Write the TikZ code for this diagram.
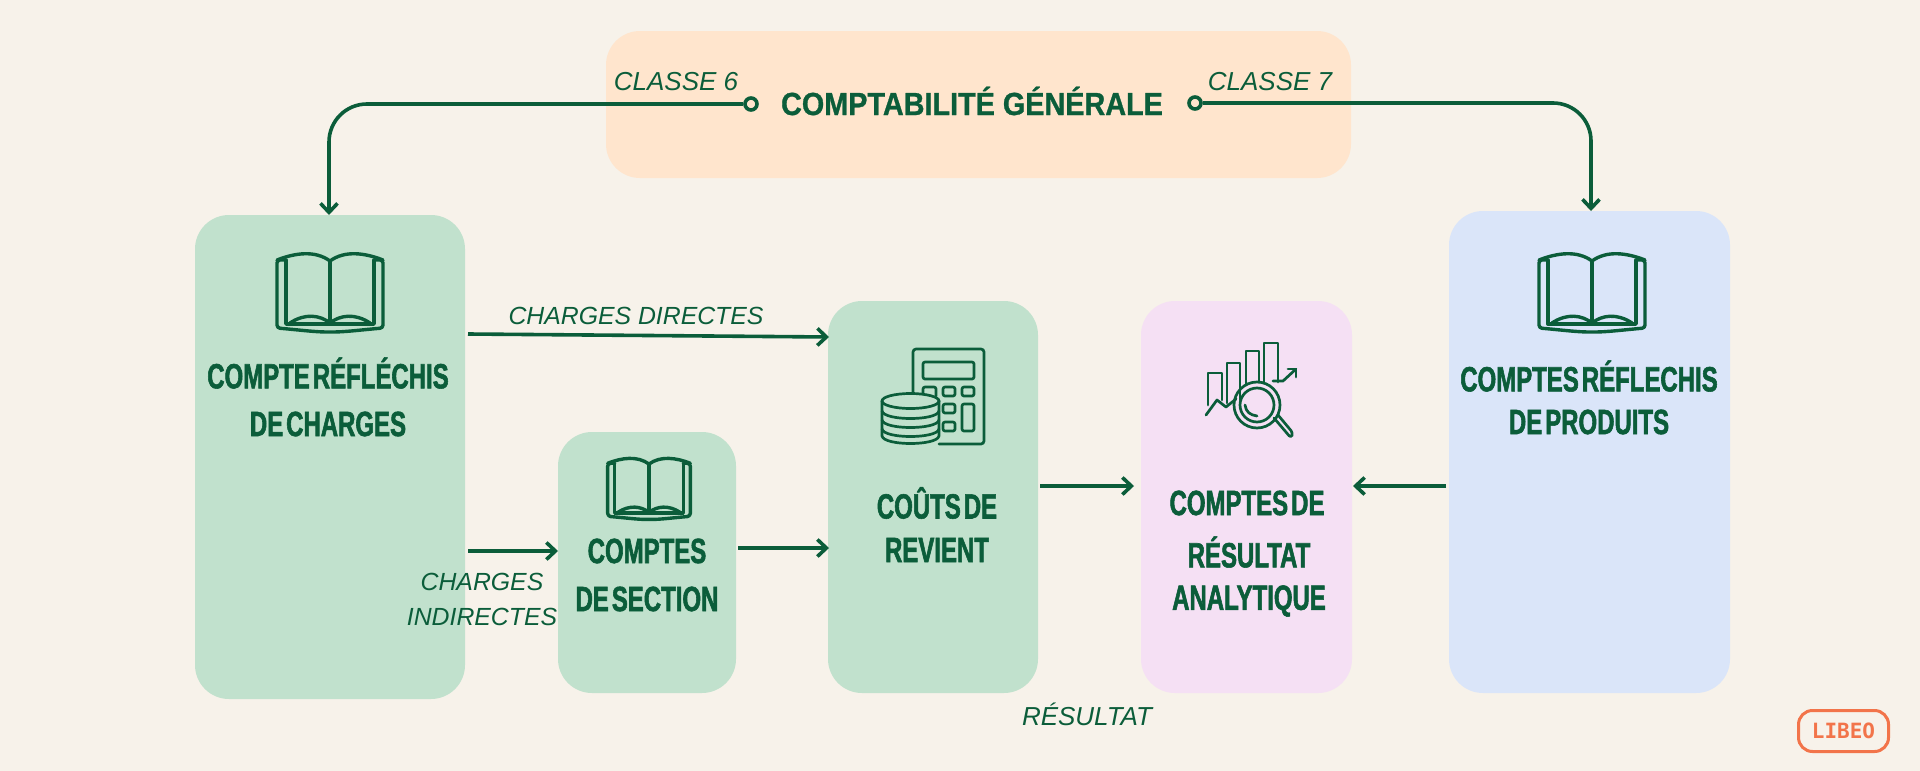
\documentclass[tikz,border=0pt]{standalone}
\usepackage{fontspec}
\setmainfont{Liberation Sans}
\newfontfamily\condfont[FakeStretch=0.685,FakeBold=1.6,WordSpace=0.45]{Liberation Sans Bold}
\newfontfamily\titlefont[FakeStretch=0.9,FakeBold=0.9]{Liberation Sans Bold}
\newfontfamily\labfont{Liberation Sans Italic}
\newfontfamily\logofont{DejaVu Sans Mono Bold}
\usetikzlibrary{arrows.meta}
\definecolor{bgc}{HTML}{F7F2EA}
\definecolor{dg}{HTML}{0B5D3A}
\definecolor{greenb}{HTML}{C1E1CD}
\definecolor{blueb}{HTML}{DAE5F9}
\definecolor{pinkb}{HTML}{F5E0F4}
\definecolor{orangeb}{HTML}{FFE5CD}
\definecolor{logoc}{HTML}{F2744A}
\tikzset{
  x=1pt,y=-1pt,
  boxshape/.style={rounded corners=34pt,draw=none},
  boxtext/.style={font=\condfont\fontsize{35}{35}\selectfont,text=dg,inner sep=0pt,anchor=center},
  lab/.style={font=\labfont\fontsize{24.8}{25}\selectfont,text=dg,inner sep=0pt,anchor=center},
  labbig/.style={font=\labfont\fontsize{26}{26}\selectfont,text=dg,inner sep=0pt,anchor=center},
  conn/.style={draw=dg,line width=3.6pt,-{Straight Barb[length=9pt,width=17pt,line width=3.6pt]}},
  icon/.style={draw=dg,line width=3.4pt,line join=round,line cap=round,fill=none},
  iconthin/.style={draw=dg,line width=2.7pt,line join=round,line cap=round,fill=none},
  dot/.style={circle,draw=dg,line width=3.6pt,minimum size=12pt,inner sep=0pt,fill=none},
}
\newcommand{\bookicon}[3]{%
\begin{scope}[shift={(#1,#2)},scale=#3]
 \draw[icon] (-53,-33) .. controls (-35,-40) and (-15,-43) .. (0,-32) .. controls (15,-43) and (35,-40) .. (53,-33);
 \draw[icon,rounded corners=3pt] (-44,-33) -- (-53,-33) -- (-53,35) .. controls (-30,37) and (-15,39) .. (0,39) .. controls (15,39) and (30,37) .. (53,35) -- (53,-33) -- (44,-33);
 \draw[icon] (0,-32) -- (0,30);
 \draw[icon] (-44,-33) -- (-44,31) -- (44,31) -- (44,-33);
 \draw[icon] (-40,30) .. controls (-25,20) and (-10,22) .. (0,30) .. controls (10,22) and (25,20) .. (40,30);
\end{scope}}
\begin{document}
\begin{tikzpicture}[x=1pt,y=-1pt]
\useasboundingbox (0,0) rectangle (1920,771);
\fill[bgc] (0,0) rectangle (1920,771);
% boxes
\fill[orangeb,boxshape] (606,31) rectangle (1351,178);
\fill[greenb,boxshape] (195,215) rectangle (465,699);
\fill[greenb,boxshape] (558,432) rectangle (736,693);
\fill[greenb,boxshape] (828,301) rectangle (1038,693);
\fill[pinkb,boxshape] (1141,301) rectangle (1352,693);
\fill[blueb,boxshape] (1449,211) rectangle (1730,693);
% anchors
\coordinate (chargesTop) at (329,215);
\coordinate (produitsTop) at (1591,211);
\coordinate (chargesR1) at (468,334);
\coordinate (coutsL1) at (829,337);
\coordinate (chargesR2) at (468,551);
\coordinate (sectionL) at (558,551);
\coordinate (sectionR) at (738,548);
\coordinate (coutsL2) at (829,548);
\coordinate (coutsR) at (1040,486);
\coordinate (resultL) at (1134,486);
\coordinate (produitsL) at (1446,486);
\coordinate (resultR) at (1353,486);
\node[dot] (dotL) at (751,104) {};
\node[dot] (dotR) at (1195,103) {};
% connectors
\draw[conn,rounded corners=38pt] (dotL.west) -- (329,104) -- (chargesTop);
\draw[conn,rounded corners=38pt] (dotR.east) -- (1591,103) -- (produitsTop);
\draw[conn] (chargesR1) -- (coutsL1);
\draw[conn] (chargesR2) -- (sectionL);
\draw[conn] (sectionR) -- (coutsL2);
\draw[conn] (coutsR) -- (resultL);
\draw[conn] (produitsL) -- (resultR);
% texts
\node[inner sep=0pt,text=dg,font=\titlefont\fontsize{32}{32}\selectfont] (titre) at (972,101) {COMPTABILITÉ GÉNÉRALE};
\node[labbig] (c6) at (676,82) {CLASSE 6};
\node[labbig] (c7) at (1270,82) {CLASSE 7};
\node[lab] (cd) at (636,316) {CHARGES DIRECTES};
\node[lab] (ci1) at (482,582) {CHARGES};
\node[lab] (ci2) at (482,617) {INDIRECTES};
\node[labbig] (res) at (1087,714) {RÉSULTAT};
\node[boxtext] (t1a) at (328,373) {COMPTE RÉFLÉCHIS};
\node[boxtext] (t1b) at (328,424) {DE CHARGES};
\node[boxtext] (t2a) at (647,551) {COMPTES};
\node[boxtext] (t2b) at (647,599) {DE SECTION};
\node[boxtext] (t3a) at (937,503) {COÛTS DE};
\node[boxtext] (t3b) at (937,550) {REVIENT};
\node[boxtext] (t4a) at (1247,503) {COMPTES DE};
\node[boxtext] (t4b) at (1249,552) {RÉSULTAT};
\node[boxtext] (t4c) at (1249,601) {ANALYTIQUE};
\node[boxtext] (t5a) at (1589,376) {COMPTES RÉFLECHIS};
\node[boxtext] (t5b) at (1589,422) {DE PRODUITS};
% book icons
\bookicon{330}{293}{1}
\bookicon{1592}{293}{1}
\bookicon{649}{489}{0.78}
% calculator + coins
\draw[iconthin,rounded corners=3pt] (913,393) -- (913,349) -- (984,349) -- (984,444) -- (939,444);
\draw[iconthin,rounded corners=2pt] (923,362) rectangle (974,379);
\draw[iconthin,rounded corners=2pt] (923,393) -- (923,387) -- (936,387) -- (936,396);
\draw[iconthin,rounded corners=2pt] (943,387) rectangle (955,396);
\draw[iconthin,rounded corners=2pt] (962,387) rectangle (974,396);
\draw[iconthin,rounded corners=2pt] (943,404) rectangle (955,413);
\draw[iconthin,rounded corners=2pt] (943,422) rectangle (955,431);
\draw[iconthin,rounded corners=2pt] (962,404) rectangle (974,431);
\draw[iconthin] (910.5,401) ellipse [x radius=28.5,y radius=7.5];
\draw[iconthin] (882,401) -- (882,436) .. controls (884,446) and (937,446) .. (939,436) -- (939,401);
\draw[iconthin] (882,411) .. controls (884,421) and (937,421) .. (939,411);
\draw[iconthin] (882,420) .. controls (884,430) and (937,430) .. (939,420);
\draw[iconthin] (882,429) .. controls (884,439) and (937,439) .. (939,429);
% chart + magnifier
\draw[iconthin] (1208,405) -- (1208,373) -- (1222,373) -- (1222,400);
\draw[iconthin] (1227,403) -- (1227,363) -- (1240,363) -- (1240,400);
\draw[iconthin] (1246,385) -- (1246,351) -- (1259,351) -- (1259,382);
\draw[iconthin] (1264,383) -- (1264,343) -- (1278,343) -- (1278,382);
\draw[iconthin] (1206,415) -- (1217,400) -- (1226,407) -- (1236,399);
\draw[iconthin] (1257,405) circle [radius=23];
\draw[iconthin] (1257,405) circle [radius=17];
\draw[iconthin] (1245,405) .. controls (1246,412) and (1250,415) .. (1257,416);
\draw[iconthin,rounded corners=3pt] (1274,418) -- (1291,438) -- (1293,433) -- (1278,415);
\draw[iconthin] (1273,381) -- (1283,381) -- (1296,369);
\draw[iconthin] (1288,369) -- (1296,369) -- (1296,377);
% logo
\node[draw=logoc,line width=3pt,rounded corners=14pt,minimum width=90pt,minimum height=41pt,inner sep=0pt,text=logoc,font=\logofont\fontsize{21}{21}\selectfont] (logo) at (1843.5,731) {LIBEO};
\end{tikzpicture}
\end{document}
